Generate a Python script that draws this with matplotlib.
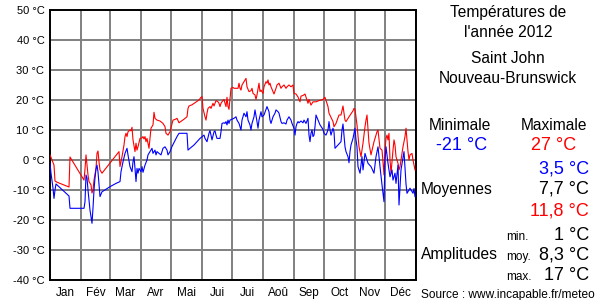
import numpy as np
import matplotlib
matplotlib.use("Agg")
import matplotlib.pyplot as plt

plt.rcParams['font.family'] = ['Liberation Sans', 'DejaVu Sans']

# Daily max (red) and min (blue) temperatures, Saint John 2012 (day index, °C)
max_days = [0, 4, 5, 7, 19, 20, 34, 35, 36, 38, 39, 41, 42, 43, 44, 46, 47, 48, 49, 50, 52,
            69, 70, 72, 74, 75, 76, 77, 78, 80, 81, 82, 83, 85, 86, 87, 88, 90, 92, 93, 94, 95,
            96, 97, 99, 100, 101, 103, 104, 105, 107, 110, 113, 115, 116, 118, 120, 121, 123,
            125, 127, 129, 134, 137, 138, 139, 142, 145, 149, 151, 152, 153, 155, 156, 157, 158,
            160, 161, 163, 164, 165, 166, 168, 169, 170, 171, 172, 174, 175, 176, 177, 178, 179,
            180, 181, 183, 184, 188, 189, 190, 191, 192, 194, 196, 197, 199, 201, 202, 203, 205,
            206, 207, 209, 210, 211, 213, 214, 216, 217, 218, 219, 220, 221, 223, 224, 226, 227,
            229, 231, 232, 234, 236, 237, 239, 241, 243, 244, 246, 248, 250, 251, 253, 255, 258,
            259, 261, 263, 266, 269, 273, 275, 278, 279, 283, 284, 286, 289, 291, 293, 295, 296,
            299, 303, 304, 305, 307, 309, 311, 313, 315, 316, 317, 319, 321, 324, 327, 328, 330,
            332, 333, 334, 335, 336, 337, 338, 339, 340, 341, 343, 344, 345, 346, 348, 349, 350,
            352, 353, 355, 356, 357, 358, 359, 360, 362, 363, 364, 365]
max_temps = [1.7, -1.7, -7, -7.4, -9, 1, -6.7, -3, 1.7, -5, -7.2, -8.3, -11, -10, -6.7, -2.8, 2.2, 3, -0.6, -3.3, -4.4,
             2.8, -2.2, 1.1, 5, 7.8, 8.9, 7.8, 9.4, 10, 9.7, 10.9, 6.7, 2.8, 5.6, 3.3, 4.4, 7.2, 7.4, 7.8, 7, 7.8,
             6.1, 7.2, 3.9, 7.2, 10.6, 11.7, 15.9, 13.9, 13.3, 13, 12.2, 11.1, 8.9, 8.3, 9.4, 10.8, 13.3,
             13.5, 13.9, 12.4, 13.6, 14.4, 17.2, 18, 18.4, 19.1, 20, 20.9, 21.1, 17.2, 14.4, 13.3, 15.6, 17.2,
             17.8, 17.2, 18.9, 18, 18.9, 19.8, 19.4, 18.9, 17.8, 18.9, 19.4, 20.2, 18.9, 17.8, 20.9, 17.8, 16.9,
             20.6, 23.9, 24.2, 23.9, 23.9, 25.6, 23.9, 23.3, 25, 26.1, 27.2, 24.4, 22.8, 23.1, 23.9, 22.2, 21.7,
             20.2, 21.7, 25.6, 22.8, 23.3, 22.2, 24.4, 26.1, 25.6, 26.7, 25, 25.6, 24.4, 22.8, 22, 23.9, 25,
             25.6, 23.9, 24.4, 25, 23.9, 24.4, 25, 24.4, 25, 22.2, 22, 21, 19.4, 21.3, 21.5, 22, 18.9,
             20.2, 18.3, 19.4, 19.4, 19.8, 20.2, 20.9, 17.8, 15.6, 12.8, 11.1, 12.2, 15, 15, 18, 13.3, 12.8,
             14.4, 16.4, 17.2, 16.9, 11.7, 4.4, 1.1, 5.6, 11.1, 13.3, 15, 5.6, 1.7, 6.1, 9.4, 10, 3.9,
             3.3, -0.6, -5, 3.3, 7.2, 8.3, 6.7, 8.9, 0, -4.4, 3.3, 6.7, 5, 1.1, -1.1, -3.3, -2.2,
             2.2, 4.4, 7.8, 10.6, 6.7, 2.8, 0, 1.7, 2.2, 0, -1.7, -3.3]

min_days = [0, 1, 3, 4, 5, 6, 18, 19, 20, 34, 35, 36, 37, 38, 40, 42, 43, 44, 45, 46, 47, 48, 49, 50, 52,
            60, 66, 70, 71, 73, 75, 77, 78, 80, 82, 83, 84, 85, 86, 87, 88, 89, 91, 92, 93, 95, 97, 98,
            100, 102, 103, 105, 106, 107, 109, 111, 112, 113, 115, 117, 118, 120, 122, 125, 127, 129,
            137, 138, 140, 144, 147, 150, 154, 155, 157, 159, 160, 161, 162, 164, 165, 166, 167, 170,
            171, 172, 174, 175, 176, 177, 178, 179, 180, 182, 184, 186, 187, 189, 191, 192, 194, 196,
            197, 198, 200, 201, 202, 204, 205, 207, 208, 209, 211, 212, 214, 216, 217, 219, 220, 221,
            223, 225, 226, 228, 229, 231, 232, 234, 236, 237, 239, 241, 242, 244, 245, 246, 247, 248,
            249, 251, 253, 254, 256, 258, 259, 260, 261, 262, 263, 264, 265, 266, 268, 270, 273, 274,
            276, 278, 279, 280, 281, 283, 284, 285, 288, 291, 292, 293, 294, 295, 296, 298, 299, 300,
            301, 303, 304, 305, 306, 307, 308, 310, 312, 313, 315, 318, 321, 324, 326, 328, 330, 332,
            334, 335, 336, 338, 340, 342, 343, 345, 346, 348, 349, 351, 354, 356, 357, 359, 360, 362,
            363, 364, 365]
min_temps = [-1.1, -4.4, -9.4, -12.8, -10, -8, -11.7, -12, -16.1, -16.1, -13.9, -5, -6, -10, -16.7, -21.1, -16, -10, -6, -3, -1.7, -4, -8, -12.2, -10.6,
             -8.9, -7.8, -7.2, -3.9, -0.6, 2.2, 3.9, 1.7, -2.2, -3.9, -0.6, 1.1, -2.8, -7.2, -2.8, -4.4, -2.8, -3.9, -2.2, -4.1, -1.7, 0, 1.7,
             2.8, 3.9, 2.2, 3.3, 1.7, 2.8, 2.2, 1.7, 2.8, 3.9, 4.4, 3.3, 1.7, 2.8, 4.5, 6.5, 7.8, 8.9,
             8.9, 3.3, 3.9, 5, 6.1, 7.2, 8.3, 7.2, 6.1, 8.9, 9.8, 8.3, 6.7, 9.4, 9.7, 8.3, 7.2, 7.2,
             9.4, 12.2, 12.4, 12.2, 12.8, 11.7, 13.3, 12.2, 13.3, 13.6, 13.9, 14.4, 13.3, 12.2, 10, 13.3, 15.6, 14.4,
             16.1, 13.3, 11.7, 10, 12.2, 14.4, 16.7, 12.8, 10.6, 13.3, 16.1, 14.4, 15, 16.9, 17.8, 16.1, 13.3, 12.2,
             14.4, 15.6, 16.7, 16.1, 15.6, 12.8, 12.2, 12.4, 12, 13.3, 14.4, 13.3, 12.2, 10.6, 8.3, 11.1, 12.2, 12.8,
             12.4, 13, 12.4, 13.3, 12.2, 13.9, 8.3, 6.1, 8.9, 10, 7.8, 8.3, 11.1, 15, 13.3, 11.7, 10.2, 8.9,
             8.3, 10, 12.8, 10, 8.3, 10.6, 9.4, 3.9, 5, 6.1, 10, 12, 8.3, 4.4, 2.8, 1.1, -0.9, 2.8,
             5, 7.2, 8.9, 10.6, 6.7, 4.4, -2.2, -4.4, 1.1, -3.3, 2.2, -1.1, -2.2, -4.4, 1.1, 4.4, -2.2, -8.3,
             -13.9, 0, 4.4, -1.1, -5.6, -3.3, -6.7, -4.4, -7.8, -1.7, -15, -3.3, 2.8, -8, -11.1, -10, -9.4, -10.5,
             -11.1, -9.5, -12.2]

month_starts = [0, 31, 60, 91, 121, 152, 182, 213, 244, 274, 305, 335, 366]
month_names = ['Jan', 'Fév', 'Mar', 'Avr', 'Mai', 'Jui', 'Jui', 'Aoû', 'Sep', 'Oct', 'Nov', 'Déc']
y_ticks = [-40, -30, -20, -10, 0, 10, 20, 30, 40, 50]

W, H = 600, 300
fig = plt.figure(figsize=(6, 3), dpi=100)
ax = fig.add_axes([50 / W, 1 - 280 / H, 366 / W, 270 / H])

ax.plot(max_days, max_temps, color='#ff0000', lw=0.8, zorder=3)
ax.plot(min_days, min_temps, color='#0000ff', lw=0.8, zorder=3)

ax.set_xlim(0, 366)
ax.set_ylim(-40, 50)
ax.set_xticks(month_starts)
ax.set_xticklabels([])
mids = [(a + b) / 2 for a, b in zip(month_starts[:-1], month_starts[1:])]
ax.set_xticks(mids, minor=True)
ax.set_xticklabels(month_names, minor=True, fontsize=8.5)
ax.set_yticks(y_ticks)
ax.set_yticklabels([f"{v} °C" for v in y_ticks], fontsize=8)
ax.tick_params(which='both', length=0)
ax.tick_params(axis='x', which='minor', pad=5)
ax.tick_params(axis='y', pad=4)
ax.grid(True, which='major', color='#808080', lw=1.4)
for s in ax.spines.values():
    s.set_color('black')
    s.set_linewidth(1.4)


def put(x, y, s, size=11.2, color='black', ha='center'):
    fig.text(x / W, 1 - y / H, s, fontsize=size, color=color, ha=ha, va='baseline')


put(508, 17, 'Températures de')
put(508, 37, "l'année 2012")
put(508, 63, 'Saint John')
put(508, 83, 'Nouveau-Brunswick')
put(460, 130, 'Minimale')
put(554, 130, 'Maximale')
put(462, 150, '-21 °C', size=13, color='#0000ff')
put(554, 150, '27 °C', size=13, color='#ff0000')
put(589, 173, '3,5 °C', size=13, color='#0000ff', ha='right')
put(589, 194, '7,7 °C', size=13, ha='right')
put(589, 215, '11,8 °C', size=13, color='#ff0000', ha='right')
put(421, 194, 'Moyennes', ha='left')
put(506, 240, 'min.', size=8.5, ha='left')
put(589, 240, '1 °C', size=13, ha='right')
put(421, 259, 'Amplitudes', ha='left')
put(506, 260, 'moy.', size=8.5, ha='left')
put(589, 260, '8,3 °C', size=13, ha='right')
put(506, 280, 'max.', size=8.5, ha='left')
put(589, 280, '17 °C', size=13, ha='right')
put(421, 298, 'Source : www.incapable.fr/meteo', size=8.6, ha='left')

fig.savefig('out.png', dpi=100)
